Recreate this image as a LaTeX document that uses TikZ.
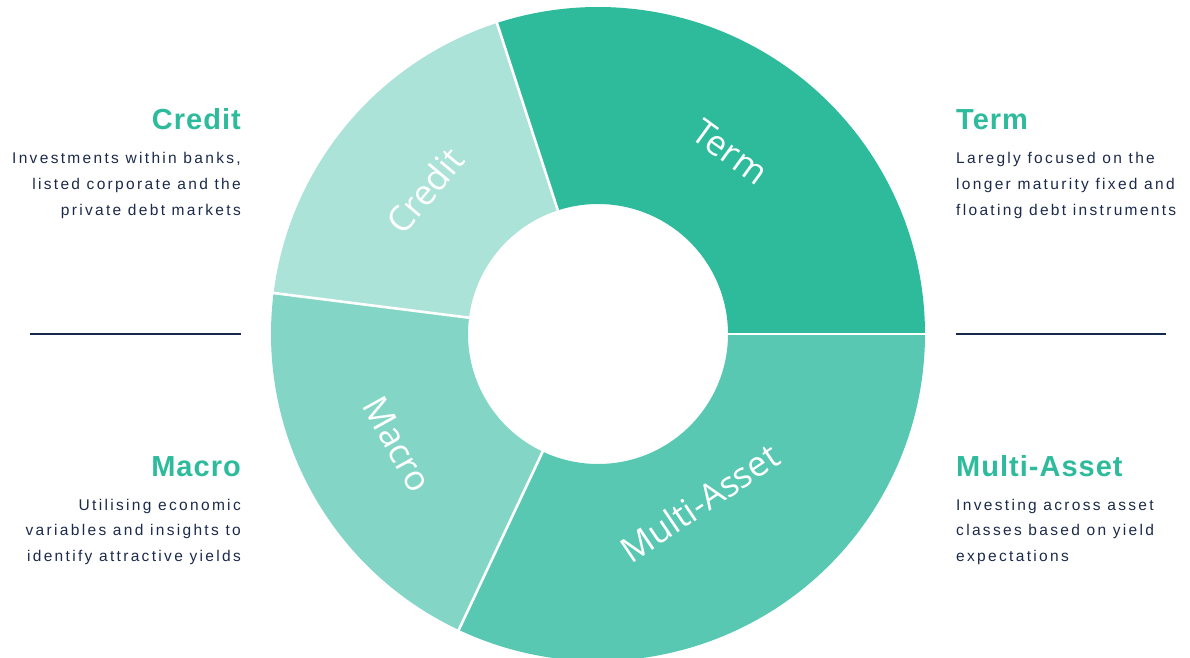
\documentclass[tikz,border=0pt]{standalone}
\usepackage{fontspec}
\setmainfont{Liberation Sans}
\newfontfamily\bodyfont[LetterSpace=15]{Liberation Sans}
\newfontfamily\titlefont[LetterSpace=3.5]{Liberation Sans}
\newfontfamily\ringfont{Open Sans}
\definecolor{cterm}{HTML}{2EBB9C}
\definecolor{ccredit}{HTML}{ACE3D8}
\definecolor{cmacro}{HTML}{83D6C6}
\definecolor{cmulti}{HTML}{58C8B2}
\definecolor{ctitle}{HTML}{2EBB9C}
\definecolor{cbody}{HTML}{1B2A4A}
\definecolor{cline}{HTML}{15294A}
\tikzset{
  titletext/.style={inner sep=0pt, text=ctitle, font=\titlefont\bfseries\fontsize{29}{32}\selectfont},
  bodytext/.style={inner sep=0pt, text=cbody, font=\bodyfont\fontsize{15.5}{18}\selectfont},
  ringlabel/.style={inner sep=0pt, text=white, font=\ringfont\fontsize{35}{40}\selectfont},
  sepline/.style={draw=white, line width=2.6pt},
  ruleline/.style={draw=cline, line width=2.3pt},
}
\newcommand{\ringseg}[3]{%
  \fill[#3] ($(c)+(#1:327)$) arc[start angle=#1, end angle=#2, radius=327]
    -- ($(c)+(#2:130)$) arc[start angle=#2, end angle=#1, radius=130] -- cycle;}
\usetikzlibrary{calc}
\begin{document}
\begin{tikzpicture}[x=1pt,y=1pt]
\useasboundingbox (0,0) rectangle (1190,657);
\coordinate (c) at (598,323);
% ring segments
\ringseg{0}{108}{cterm}
\ringseg{108}{172.8}{ccredit}
\ringseg{172.8}{244.8}{cmacro}
\ringseg{244.8}{360}{cmulti}
% separators
\foreach \a/\n in {0/s1,108/s2,172.8/s3,244.8/s4}{
  \coordinate (\n i) at ($(c)+(\a:125)$);
  \coordinate (\n o) at ($(c)+(\a:332)$);
  \draw[sepline] (\n i) -- (\n o);
}
% ring labels
\node[ringlabel, rotate=-36] (lterm) at ($(c)+(54:225)$) {Term};
\node[ringlabel, rotate=50] (lcredit) at ($(c)+(140.4:225)$) {Credit};
\node[ringlabel, rotate=-61] (lmacro) at ($(c)+(208.8:229)$) {Macro};
\node[ringlabel, rotate=34] (lmulti) at ($(c)+(301:197)$) {Multi-Asset};
% left column
\node[titletext, anchor=base east] (tcredit) at (241,527) {Credit};
\node[bodytext, anchor=base east] (bc1) at (241,493) {Investments within banks,};
\node[bodytext, anchor=base east] (bc2) at (241,467) {listed corporate and the};
\node[bodytext, anchor=base east] (bc3) at (241,441.5) {private debt markets};
\coordinate (ll1) at (30,323);
\coordinate (ll2) at (241,323);
\draw[ruleline] (ll1) -- (ll2);
\node[titletext, anchor=base east] (tmacro) at (241,181) {Macro};
\node[bodytext, anchor=base east] (bm1) at (241,147) {Utilising economic};
\node[bodytext, anchor=base east] (bm2) at (241,121.5) {variables and insights to};
\node[bodytext, anchor=base east] (bm3) at (241,96) {identify attractive yields};
% right column
\node[titletext, anchor=base west] (tterm) at (956,527) {Term};
\node[bodytext, anchor=base west] (bt1) at (956,493) {Laregly focused on the};
\node[bodytext, anchor=base west] (bt2) at (956,467) {longer maturity fixed and};
\node[bodytext, anchor=base west] (bt3) at (956,441.5) {floating debt instruments};
\coordinate (rl1) at (956,323);
\coordinate (rl2) at (1166,323);
\draw[ruleline] (rl1) -- (rl2);
\node[titletext, anchor=base west] (tmulti) at (956,181) {Multi-Asset};
\node[bodytext, anchor=base west] (bu1) at (956,147) {Investing across asset};
\node[bodytext, anchor=base west] (bu2) at (956,121.5) {classes based on yield};
\node[bodytext, anchor=base west] (bu3) at (956,96) {expectations};
\end{tikzpicture}
\end{document}
